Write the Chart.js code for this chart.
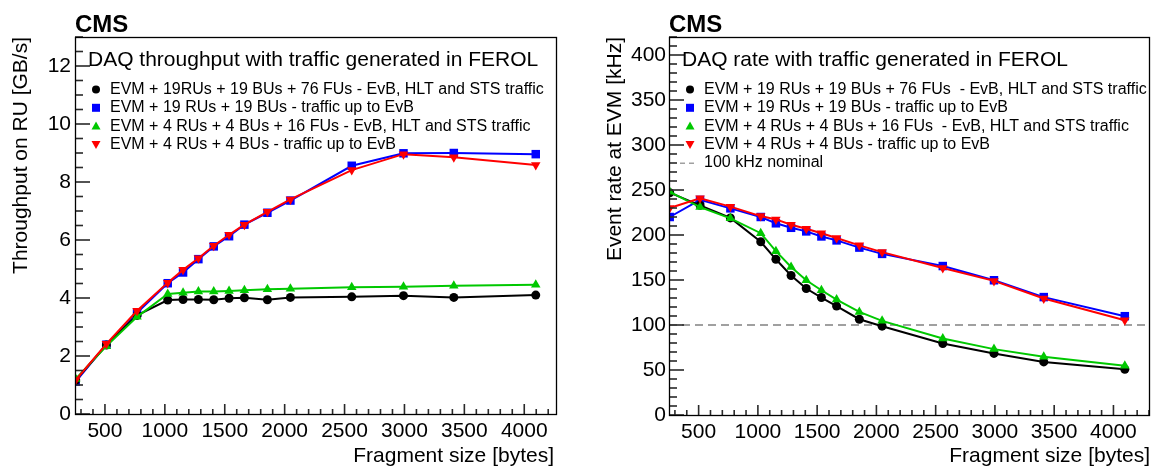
<!DOCTYPE html>
<html>
<head>
<meta charset="utf-8">
<script src="https://cdn.jsdelivr.net/npm/chart.js@4.4.1/dist/chart.umd.min.js"></script>
<style>
  html, body { margin: 0; padding: 0; background: #fff; }
  #wrap { position: relative; width: 1155px; height: 467px; overflow: hidden; }
  canvas { position: absolute; top: 0; }
  #throughputChart { left: 0; }
  #rateChart { left: 578px; }
</style>
</head>
<body>
<div id="wrap">
  <canvas id="throughputChart" width="578" height="467"></canvas>
  <canvas id="rateChart" width="577" height="467"></canvas>
</div>
<script>
// fragment sizes [bytes]
var fragmentSizes = [256, 512, 768, 1024, 1152, 1280, 1408, 1536, 1664, 1856, 2048, 2560, 2992, 3412, 4096];

// throughput on RU [GB/s]
var tpBig = [1.17, 2.38, 3.40, 3.93, 3.95, 3.95, 3.94, 3.99, 4.01, 3.94, 4.02, 4.04, 4.08, 4.02, 4.10];
var tpBigEvb = [1.12, 2.39, 3.49, 4.51, 4.88, 5.34, 5.78, 6.13, 6.53, 6.94, 7.36, 8.56, 8.99, 9.00, 8.96];
var tpSmall = [1.21, 2.34, 3.35, 4.14, 4.18, 4.22, 4.22, 4.24, 4.27, 4.30, 4.32, 4.37, 4.39, 4.42, 4.46];
var tpSmallEvb = [1.17, 2.42, 3.56, 4.53, 4.97, 5.37, 5.80, 6.18, 6.53, 6.97, 7.40, 8.41, 8.96, 8.85, 8.59];

// event rate at EVM [kHz]
var rateBig = [247, 233, 219, 192.5, 173, 155, 140.5, 130.5, 121, 106.4, 98.7, 79.5, 68.4, 59, 50.7];
var rateBigEvb = [220, 239, 229.6, 220, 213, 208, 204, 198.4, 194, 186, 179, 165.5, 149.7, 131, 109.8];
var rateSmall = [248, 231, 218.5, 202, 182, 164.5, 149.7, 138.6, 128.3, 114.5, 104.6, 85, 73.2, 64.6, 54.7];
var rateSmallEvb = [230, 240.8, 231.5, 221, 217.3, 211.4, 207, 202, 196.6, 188.5, 181, 163.3, 149, 129.4, 105.3];
var nominalRate = 100;
var nominalX = [250, 4300];

// axis ticks
var xTickValues = [500, 1000, 1500, 2000, 2500, 3000, 3500, 4000];
var tpTickValues = [0, 2, 4, 6, 8, 10, 12];
var rateTickValues = [0, 50, 100, 150, 200, 250, 300, 350, 400];

var tpLabels = [
    'EVM + 19RUs + 19 BUs + 76 FUs - EvB, HLT and STS traffic',
    'EVM + 19 RUs + 19 BUs - traffic up to EvB',
    'EVM + 4 RUs + 4 BUs + 16 FUs - EvB, HLT and STS traffic',
    'EVM + 4 RUs + 4 BUs - traffic up to EvB'
];
var rateLabels = [
    'EVM + 19 RUs + 19 BUs + 76 FUs  - EvB, HLT and STS traffic',
    'EVM + 19 RUs + 19 BUs - traffic up to EvB',
    'EVM + 4 RUs + 4 BUs + 16 FUs  - EvB, HLT and STS traffic',
    'EVM + 4 RUs + 4 BUs - traffic up to EvB',
    '100 kHz nominal'
];

var FONT = "'Liberation Sans', Arial, Helvetica, sans-serif";
Chart.defaults.font.family = FONT;
Chart.defaults.color = '#000';

var GREEN = '#00c800';

function pts(ys) {
    return fragmentSizes.map(function(x, i) { return {x: x, y: ys[i]}; });
}

function series(label, ys, color, style, radius, rotation, order) {
    return {
        label: label,
        data: pts(ys),
        borderColor: color,
        backgroundColor: color,
        borderWidth: 2,
        pointStyle: style,
        pointRotation: rotation,
        pointRadius: radius,
        pointBorderWidth: 0,
        order: order,
        tension: 0
    };
}

// draw a legend marker by hand
function marker(ctx, style, rot, x, y, color) {
    ctx.fillStyle = color;
    ctx.beginPath();
    if (style === 'circle') {
        ctx.arc(x, y, 4, 0, Math.PI * 2);
    } else if (style === 'rect') {
        ctx.rect(x - 4, y - 4, 8, 8);
    } else if (style === 'triangle' && rot === 180) {
        ctx.moveTo(x - 4.5, y - 3.5); ctx.lineTo(x + 4.5, y - 3.5); ctx.lineTo(x, y + 4.5);
    } else if (style === 'triangle') {
        ctx.moveTo(x - 4.5, y + 3.5); ctx.lineTo(x + 4.5, y + 3.5); ctx.lineTo(x, y - 4.5);
    }
    ctx.closePath();
    ctx.fill();
}

// ROOT-like frame, inward ticks, CMS label, title, legend, x title
var rootStyle = {
    id: 'rootStyle',
    afterDraw: function(chart, args, o) {
        var ctx = chart.ctx, a = chart.chartArea;
        var xs = chart.scales.x, ys = chart.scales.y;
        var left = Math.round(a.left), bottom = Math.round(a.bottom);
        var xMax = chart.options.scales.x.max, yMax = chart.options.scales.y.max;
        ctx.save();
        ctx.fillStyle = '#2a2a2a';
        var i, p, len;
        for (i = 3; i * 100 <= xMax; i++) {
            p = xs.getPixelForValue(i * 100);
            len = (i % 5 === 0) ? 10 : 5;
            ctx.fillRect(p - 0.8, bottom - len, 1.6, len);
        }
        for (i = 0; i * o.yMinor <= yMax; i++) {
            p = ys.getPixelForValue(i * o.yMinor);
            len = (i % o.yPerMajor === 0) ? 15 : 8;
            ctx.fillRect(left, p - 0.8, len, 1.6);
        }
        ctx.strokeStyle = '#000';
        ctx.lineWidth = 1.3;
        ctx.strokeRect(left + 0.5, Math.round(a.top) + 0.5,
            Math.round(a.right) - left, bottom - Math.round(a.top));

        ctx.fillStyle = '#000';
        ctx.textBaseline = 'alphabetic';
        ctx.textAlign = 'left';
        ctx.font = 'bold 24px ' + FONT;
        ctx.fillText('CMS', a.left, 32);
        ctx.font = '21px ' + FONT;
        ctx.fillText(o.title, a.left + 13, 66);

        ctx.font = '16px ' + FONT;
        ctx.textBaseline = 'middle';
        chart.data.datasets.forEach(function(ds, k) {
            var y = 89.5 + k * 18.3;
            var mx = a.left + 21;
            if (ds.pointRadius > 0) {
                marker(ctx, ds.pointStyle, ds.pointRotation, mx, y, ds.borderColor);
            } else {
                ctx.save();
                ctx.strokeStyle = ds.borderColor;
                ctx.lineWidth = 1.5;
                ctx.setLineDash([5, 4]);
                ctx.beginPath();
                ctx.moveTo(mx - 10, y + 0.5); ctx.lineTo(mx + 6, y + 0.5);
                ctx.stroke();
                ctx.restore();
            }
            ctx.fillStyle = '#000';
            ctx.fillText(ds.label, a.left + 35, y);
        });

        ctx.font = '21px ' + FONT;
        ctx.textAlign = 'right';
        ctx.textBaseline = 'alphabetic';
        ctx.fillText('Fragment size [bytes]', o.xTitleRight, 462);
        ctx.restore();
    }
};

function axes(xMax, yMax, yTicks, yTitle, yWidth, titlePad, tickPad, xHeight) {
    return {
        x: {
            type: 'linear', min: 250, max: xMax,
            grid: {display: false, drawTicks: false},
            border: {display: false},
            afterBuildTicks: function(s) { s.ticks = xTickValues.map(function(v) { return {value: v}; }); },
            afterFit: function(s) { s.height = xHeight; },
            ticks: {font: {size: 21}, color: '#000', padding: 5, maxRotation: 0, autoSkip: false,
                    callback: function(v) { return String(v); }}
        },
        y: {
            type: 'linear', min: 0, max: yMax,
            grid: {display: false, drawTicks: false},
            border: {display: false},
            afterBuildTicks: function(s) { s.ticks = yTicks.map(function(v) { return {value: v}; }); },
            afterFit: function(s) { s.width = yWidth; },
            ticks: {font: {size: 21}, color: '#000', padding: tickPad, autoSkip: false,
                    callback: function(v) { return String(v); }},
            title: {display: true, text: yTitle, align: 'end', color: '#000',
                    font: {size: 21}, padding: {top: titlePad, bottom: 0}}
        }
    };
}

document.addEventListener("DOMContentLoaded", function() {
    var ctx = document.getElementById('throughputChart').getContext('2d');
    new Chart(ctx, {
        type: 'line',
        data: {
            datasets: [
                series(tpLabels[0], tpBig, '#000000', 'circle', 4.5, 0, 2),
                series(tpLabels[1], tpBigEvb, '#0000ff', 'rect', 6, 0, 3),
                series(tpLabels[2], tpSmall, GREEN, 'triangle', 5.5, 0, 1),
                series(tpLabels[3], tpSmallEvb, '#ff0000', 'triangle', 5.5, 180, 0)
            ]
        },
        options: {
            responsive: false,
            animation: false,
            devicePixelRatio: 1,
            layout: {padding: {top: 37, right: 22, bottom: 0, left: 0}},
            scales: axes(4265, 13, tpTickValues, 'Throughput on RU [GB/s]', 75, 9, 4, 53),
            plugins: {
                legend: {display: false},
                tooltip: {enabled: false},
                rootStyle: {
                    yMinor: 0.5, yPerMajor: 4,
                    title: 'DAQ throughput with traffic generated in FEROL',
                    xTitleRight: 554
                }
            }
        },
        plugins: [rootStyle]
    });
});

document.addEventListener("DOMContentLoaded", function() {
    var ctx = document.getElementById('rateChart').getContext('2d');
    var nominal = {
        label: rateLabels[4],
        data: nominalX.map(function(x) { return {x: x, y: nominalRate}; }),
        borderColor: '#a0a0a0',
        borderWidth: 2,
        borderDash: [8, 5],
        pointRadius: 0,
        order: 5
    };
    new Chart(ctx, {
        type: 'line',
        data: {
            datasets: [
                series(rateLabels[0], rateBig, '#000000', 'circle', 4.5, 0, 2),
                series(rateLabels[1], rateBigEvb, '#0000ff', 'rect', 6, 0, 3),
                series(rateLabels[2], rateSmall, GREEN, 'triangle', 5.5, 0, 1),
                series(rateLabels[3], rateSmallEvb, '#ff0000', 'triangle', 5.5, 180, 0),
                nominal
            ]
        },
        options: {
            responsive: false,
            animation: false,
            devicePixelRatio: 1,
            layout: {padding: {top: 37, right: 2, bottom: 0, left: 0}},
            scales: axes(4300, 420, rateTickValues, 'Event rate at EVM [kHz]', 91, 25, 3, 52),
            plugins: {
                legend: {display: false},
                tooltip: {enabled: false},
                rootStyle: {
                    yMinor: 10, yPerMajor: 5,
                    title: 'DAQ rate with traffic generated in FEROL',
                    xTitleRight: 572
                }
            }
        },
        plugins: [rootStyle]
    });
});
</script>
</body>
</html>
